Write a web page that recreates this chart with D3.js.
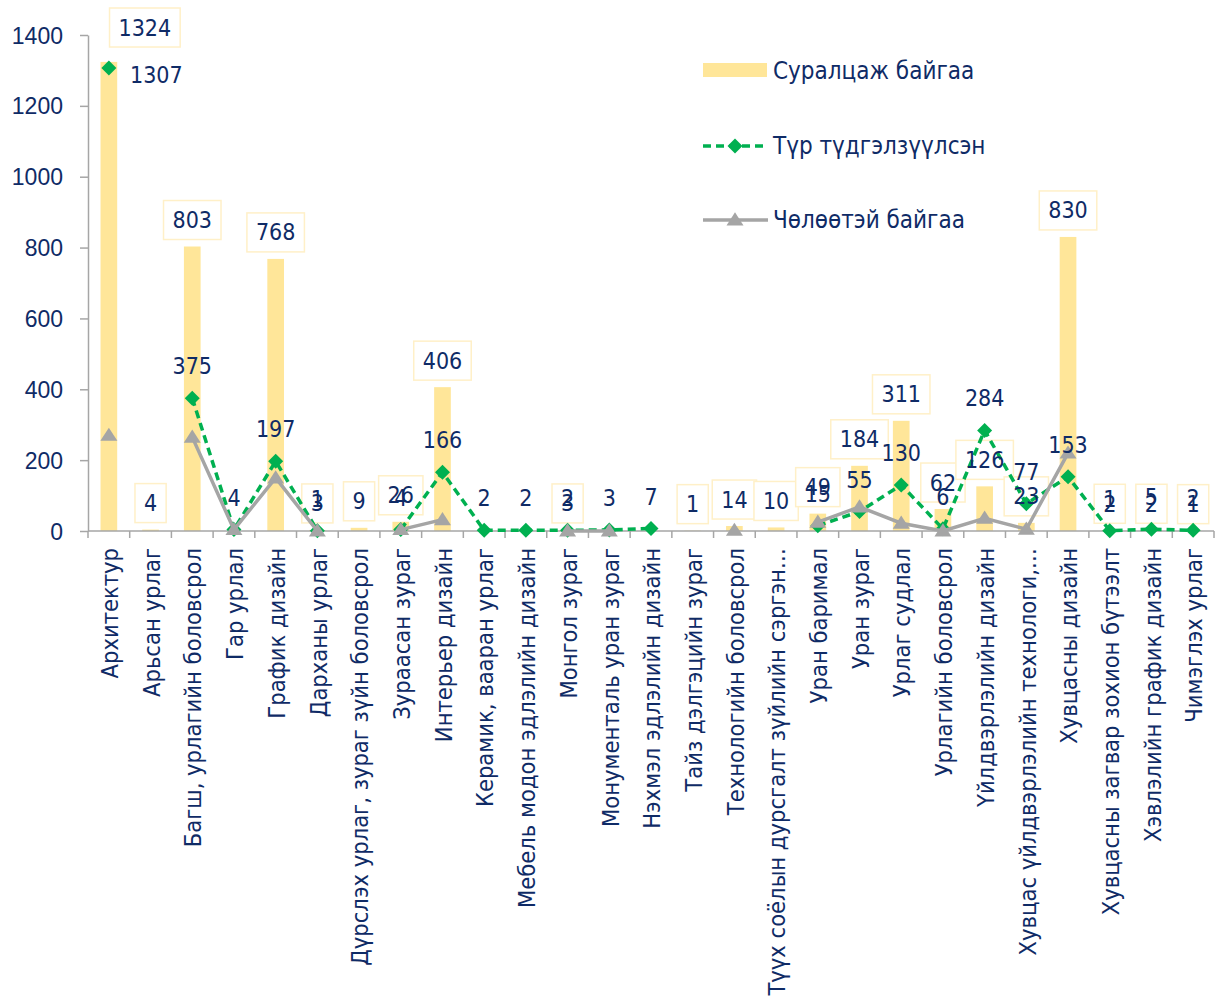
<!DOCTYPE html>
<html lang="mn">
<head>
  <meta charset="utf-8">
  <title>Урлагийн чиглэлээр суралцагчид</title>
  <script src="https://d3js.org/d3.v7.min.js"></script>
  <style>
    body {
      margin: 0;
      background: #ffffff;
      font-family: Tahoma, "DejaVu Sans Condensed", "DejaVu Sans", sans-serif;
      font-stretch: condensed;
    }
    svg text { fill: #0f2b66; }
    .axis path, .axis line { stroke: #a6a6a6; stroke-width: 1.5px; }
    .axis text { font-size: 23px; fill: #0f2b66; }
    .cat-label { font-size: 23.5px; }
    .val-label { font-size: 23px; }
    .legend text { font-size: 24px; }
  </style>
</head>
<body>
<script>
// categories (x axis)
var categories = [
  "Архитектур", "Арьсан урлаг", "Багш, урлагийн боловсрол", "Гар урлал",
  "График дизайн", "Дарханы урлаг", "Дүрслэх урлаг, зураг зүйн боловсрол",
  "Зураасан зураг", "Интерьер дизайн", "Керамик, вааран урлаг",
  "Мебель модон эдлэлийн дизайн", "Монгол зураг", "Монументаль уран зураг",
  "Нэхмэл эдлэлийн дизайн", "Тайз дэлгэцийн зураг", "Технологийн боловсрол",
  "Түүх соёлын дурсгалт зүйлийн сэргэн…", "Уран баримал", "Уран зураг",
  "Урлаг судлал", "Урлагийн боловсрол", "Үйлдвэрлэлийн дизайн",
  "Хувцас үйлдвэрлэлийн технологи,…", "Хувцасны дизайн",
  "Хувцасны загвар зохион бүтээлт", "Хэвлэлийн график дизайн", "Чимэглэх урлаг"
];

// Суралцаж байгаа (bars)
var studying = [1324, 4, 803, null, 768, 3, 9, 26, 406, null, null, 3, null, null,
  1, 14, 10, 49, 184, 311, 62, 126, 23, 830, 2, 2, 1];

// Түр түдгэлзүүлсэн (green dashed)
var suspended = [1307, null, 375, 4, 197, 1, null, 4, 166, 2, 2, 2, 3, 7,
  null, null, null, 15, 55, 130, 6, 284, 77, 153, 1, 5, 2];

// Чөлөөтэй байгаа (gray)
var onLeave = [270, null, 265, 4, 150, 0, null, 4, 32, null, null, 0, 0, null,
  null, 2, null, 25, 68, 22, 0, 36, 5, 220, null, null, null];

var yTicks = [0, 200, 400, 600, 800, 1000, 1200, 1400];

var seriesNames = ["Суралцаж байгаа", "Түр түдгэлзүүлсэн", "Чөлөөтэй байгаа"];

var width = 1220, height = 998;
var barColor = "#ffe699", greenColor = "#00b050", grayColor = "#a5a5a5",
    boxStroke = "#fff0c8";

var svg = d3.select("body").append("svg")
    .attr("width", width)
    .attr("height", height);

var x = d3.scaleBand().domain(categories).range([88, 1214]);
var y = d3.scaleLinear().domain([0, 1400]).range([531, 35]);
var cx = function(i) { return x(categories[i]) + x.bandwidth() / 2; };

// y axis
svg.append("g")
    .attr("class", "axis")
    .attr("transform", "translate(88,0)")
    .call(d3.axisLeft(y).tickValues(yTicks).tickFormat(d3.format("d"))
      .tickSize(8).tickSizeOuter(0).tickPadding(17))
    .call(g => g.selectAll("text").attr("dy", "0.35em"));

// bars
var barW = x.bandwidth() * 0.4;
svg.append("g").selectAll("rect")
    .data(studying.map((v, i) => ({ v: v, i: i })).filter(d => d.v != null))
    .enter().append("rect")
    .attr("x", d => cx(d.i) - barW / 2)
    .attr("y", d => y(d.v))
    .attr("width", barW)
    .attr("height", d => y(0) - y(d.v))
    .attr("fill", barColor);

// x axis: baseline + ticks at band edges
var xAxis = svg.append("g").attr("class", "axis");
xAxis.append("line")
    .attr("x1", 88).attr("x2", 1214).attr("y1", y(0)).attr("y2", y(0));
xAxis.selectAll("line.tick")
    .data(d3.range(categories.length + 1))
    .enter().append("line")
    .attr("class", "tick")
    .attr("x1", i => 88 + i * x.step()).attr("x2", i => 88 + i * x.step())
    .attr("y1", y(0)).attr("y2", y(0) + 7);

// category labels
svg.append("g").selectAll("text")
    .data(categories)
    .enter().append("text")
    .attr("class", "cat-label")
    .attr("text-anchor", "end")
    .attr("transform", (d, i) => "translate(" + (cx(i) + 1) + "," + (y(0) + 17) + ") rotate(-90)")
    .attr("dy", "0.35em")
    .text(d => d);

// bar label boxes (drawn below lines)
var boxG = svg.append("g");
var lineG = svg.append("g");
var labelG = svg.append("g");

var barLabels = studying.map((v, i) => ({ v: v, i: i })).filter(d => d.v != null);
barLabels.forEach(function(d) {
  var bx = cx(d.i), by = y(d.v) - 26.5;
  if (d.i === 0) { bx += 36; by = 27.5; }   // Excel moved this one
  var t = labelG.append("text")
      .attr("class", "val-label")
      .attr("x", bx).attr("y", by)
      .attr("dy", "0.35em")
      .attr("text-anchor", "middle")
      .text(d.v);
  var w = t.node().getComputedTextLength() + 18;
  boxG.append("rect")
      .attr("x", bx - w / 2).attr("y", by - 19.5)
      .attr("width", w).attr("height", 39)
      .attr("fill", "#ffffff")
      .attr("stroke", boxStroke)
      .attr("stroke-width", 1.5);
});

// lines
var line = d3.line()
    .defined(d => d.v != null)
    .x(d => cx(d.i))
    .y(d => y(d.v));

var greenData = suspended.map((v, i) => ({ v: v, i: i }));
var grayData = onLeave.map((v, i) => ({ v: v, i: i }));

function diamond(s) { return "M0," + (-s) + "L" + s + ",0L0," + s + "L" + (-s) + ",0Z"; }
function triangle(s) { return "M0," + (-s * 0.9) + "L" + s + "," + (s * 0.65) + "L" + (-s) + "," + (s * 0.65) + "Z"; }

lineG.append("path")
    .datum(greenData)
    .attr("d", line)
    .attr("fill", "none")
    .attr("stroke", greenColor)
    .attr("stroke-width", 3.5)
    .attr("stroke-dasharray", "8,5");

lineG.selectAll("path.gm")
    .data(greenData.filter(d => d.v != null))
    .enter().append("path")
    .attr("class", "gm")
    .attr("transform", d => "translate(" + cx(d.i) + "," + y(d.v) + ")")
    .attr("d", diamond(7.5))
    .attr("fill", greenColor);

lineG.append("path")
    .datum(grayData)
    .attr("d", line)
    .attr("fill", "none")
    .attr("stroke", grayColor)
    .attr("stroke-width", 3.5);

lineG.selectAll("path.tm")
    .data(grayData.filter(d => d.v != null))
    .enter().append("path")
    .attr("class", "tm")
    .attr("transform", d => "translate(" + cx(d.i) + "," + y(d.v) + ")")
    .attr("d", triangle(8.5))
    .attr("fill", grayColor);

// green value labels
greenData.filter(d => d.v != null).forEach(function(d) {
  var lx = cx(d.i), ly = y(d.v) - 32, anchor = "middle";
  if (d.i === 0) { lx = 130; ly = 75; anchor = "start"; }
  labelG.append("text")
      .attr("class", "val-label")
      .attr("x", lx).attr("y", ly)
      .attr("dy", "0.35em")
      .attr("text-anchor", anchor)
      .text(d.v);
});

// legend
var legend = svg.append("g").attr("class", "legend");
legend.append("rect")
    .attr("x", 703).attr("y", 63).attr("width", 64).attr("height", 14)
    .attr("fill", barColor);
legend.append("line")
    .attr("x1", 703).attr("x2", 768).attr("y1", 146).attr("y2", 146)
    .attr("stroke", greenColor).attr("stroke-width", 3.5).attr("stroke-dasharray", "8,5");
legend.append("path")
    .attr("transform", "translate(735,146)")
    .attr("d", diamond(7.5)).attr("fill", greenColor);
legend.append("line")
    .attr("x1", 703).attr("x2", 768).attr("y1", 220).attr("y2", 220)
    .attr("stroke", grayColor).attr("stroke-width", 3.5);
legend.append("path")
    .attr("transform", "translate(735,220)")
    .attr("d", triangle(8.5)).attr("fill", grayColor);
legend.selectAll("text")
    .data(seriesNames)
    .enter().append("text")
    .attr("x", 773)
    .attr("y", (d, i) => [71, 146, 220][i])
    .attr("dy", "0.35em")
    .text(d => d);
</script>
</body>
</html>
